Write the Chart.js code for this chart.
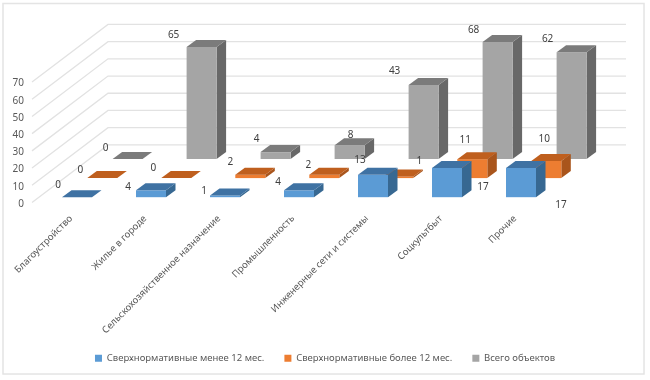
<!DOCTYPE html>
<html>
<head>
<meta charset="utf-8">
<script src="https://cdn.jsdelivr.net/npm/chart.js@4"></script>
<style>
  html, body { margin: 0; padding: 0; background: #fff; }
  canvas { display: block; }
</style>
</head>
<body>
<canvas id="chart" width="650" height="380"></canvas>
<script>
  'use strict';

  var categories = ['Благоустройство', 'Жилье в городе', 'Сельскохозяйственное назначение',
    'Промышленность', 'Инженерные сети и системы', 'Соцкультбыт', 'Прочие'];
  var seriesNames = ['Сверхнормативные менее 12 мес.', 'Сверхнормативные более 12 мес.', 'Всего объектов'];
  var under12 = [0, 4, 1, 4, 13, 17, 17];
  var over12 = [0, 0, 2, 2, 1, 11, 10];
  var total = [0, 65, 4, 8, 43, 68, 62];

  // faces of each box: front, top, side
  var blueFaces = ['#5b9bd5', '#3f72a3', '#376892'];
  var orangeFaces = ['#ed7d31', '#bf5f1e', '#a9551c'];
  var grayFaces = ['#a5a5a5', '#7b7b7b', '#686868'];
  var faces = [blueFaces, orangeFaces, grayFaces];

  // where the labels sit relative to the front top of their bar
  var labelNudge = [
    [[-19, -14], [-23, -5], [-21, -6], [-21, -10], [-13, -17], [36, 17], [40, 35]],
    [[-22, -10], [-23, -12], [-20, -15], [-16, -12], [21, -17], [-7, -21], [-2, -24]],
    [[-22, -13], [-28, -14], [-19, -15], [1, -12], [-29, -16], [-24, -14], [-24, -15]]
  ];

  var fontFamily = '"Noto Sans", sans-serif';
  var textColor = '#595959';
  var wallDx = 76, wallDy = -57.6;
  var rowDx = 25.3, rowDy = -19.1;
  var slotDx = 8, slotDy = -5.3;
  var depthDx = 9.5, depthDy = -7;

  function poly(ctx, color, pts) {
    ctx.fillStyle = color;
    ctx.beginPath();
    ctx.moveTo(pts[0], pts[1]);
    for (var i = 2; i < pts.length; i += 2) {
      ctx.lineTo(pts[i], pts[i + 1]);
    }
    ctx.closePath();
    ctx.fill();
  }

  var box3d = {
    id: 'box3d',
    beforeDraw: function (chart) {
      var ctx = chart.ctx;
      ctx.save();
      ctx.strokeStyle = '#e4e4e4';
      ctx.lineWidth = 1.5;
      ctx.strokeRect(3, 3.5, 641, 370.5);
      ctx.restore();
    },
    beforeDatasetsDraw: function (chart) {
      var ctx = chart.ctx;
      var xs = chart.scales.x;
      var ys = chart.scales.y;
      ctx.save();
      ctx.strokeStyle = '#e2e2e2';
      ctx.lineWidth = 1.3;
      ys.ticks.forEach(function (tick) {
        var py = ys.getPixelForValue(tick.value);
        ctx.beginPath();
        ctx.moveTo(xs.left, py);
        ctx.lineTo(xs.left + wallDx, py + wallDy);
        ctx.lineTo(xs.right + wallDx, py + wallDy);
        ctx.stroke();
      });
      ctx.restore();
    },
    beforeDatasetDraw: function (chart, args) {
      var ctx = chart.ctx;
      var row = args.index;
      var colors = faces[row];
      args.meta.data.forEach(function (bar) {
        var x = bar.x - bar.width / 2 + slotDx + rowDx * row;
        var r = x + bar.width;
        var bottom = bar.base + slotDy + rowDy * row;
        var top = bar.y + slotDy + rowDy * row;
        if (bottom - top > 0.5) {
          poly(ctx, colors[2], [r, top, r + depthDx, top + depthDy, r + depthDx, bottom + depthDy, r, bottom]);
          poly(ctx, colors[0], [x, top, r, top, r, bottom, x, bottom]);
        }
        poly(ctx, colors[1], [x, top, r, top, r + depthDx, top + depthDy, x + depthDx, top + depthDy]);
      });
      return false;
    },
    afterDatasetsDraw: function (chart) {
      var ctx = chart.ctx;
      ctx.save();
      ctx.font = '10px ' + fontFamily;
      ctx.fillStyle = '#404040';
      ctx.textAlign = 'center';
      ctx.textBaseline = 'middle';
      chart.data.datasets.forEach(function (ds, row) {
        chart.getDatasetMeta(row).data.forEach(function (bar, i) {
          var cx = bar.x + slotDx + rowDx * row + labelNudge[row][i][0];
          var cy = bar.y + slotDy + rowDy * row + labelNudge[row][i][1] + 2;
          ctx.fillText(ds.data[i], cx, cy);
        });
      });
      ctx.restore();
    }
  };

  new Chart(document.getElementById('chart').getContext('2d'), {
    type: 'bar',
    data: {
      labels: categories,
      datasets: [
        { label: seriesNames[0], data: under12, backgroundColor: blueFaces[0] },
        { label: seriesNames[1], data: over12, backgroundColor: orangeFaces[0] },
        { label: seriesNames[2], data: total, backgroundColor: grayFaces[0] }
      ]
    },
    options: {
      responsive: false,
      animation: false,
      layout: { padding: { top: 82, bottom: 7 } },
      datasets: { bar: { grouped: false, barThickness: 30 } },
      plugins: {
        tooltip: { enabled: false },
        legend: {
          position: 'bottom',
          labels: {
            font: { family: fontFamily, size: 9.5 },
            color: textColor,
            usePointStyle: true,
            pointStyle: 'rect',
            boxWidth: 7,
            boxHeight: 7,
            padding: 20
          }
        }
      },
      scales: {
        x: {
          grid: { display: false, drawTicks: false },
          border: { display: false },
          ticks: {
            autoSkip: false,
            minRotation: 45,
            maxRotation: 45,
            padding: 10.5,
            labelOffset: 2,
            color: textColor,
            font: { family: fontFamily, size: 9.5 }
          },
          afterFit: function (scale) { scale.height = 131; }
        },
        y: {
          min: 0,
          max: 70,
          grid: { display: false, drawTicks: false },
          border: { display: false },
          ticks: {
            stepSize: 10,
            padding: 8,
            labelOffset: 1.5,
            color: textColor,
            font: { family: fontFamily, size: 10 }
          },
          afterFit: function (scale) { scale.width = 32; }
        },
        // keeps the room right of the plot that the back wall runs into
        wallRoom: {
          position: 'right',
          grid: { display: false },
          border: { display: false },
          ticks: { display: false },
          afterFit: function (scale) { scale.width = 100; }
        }
      }
    },
    plugins: [box3d]
  });
</script>
</body>
</html>
